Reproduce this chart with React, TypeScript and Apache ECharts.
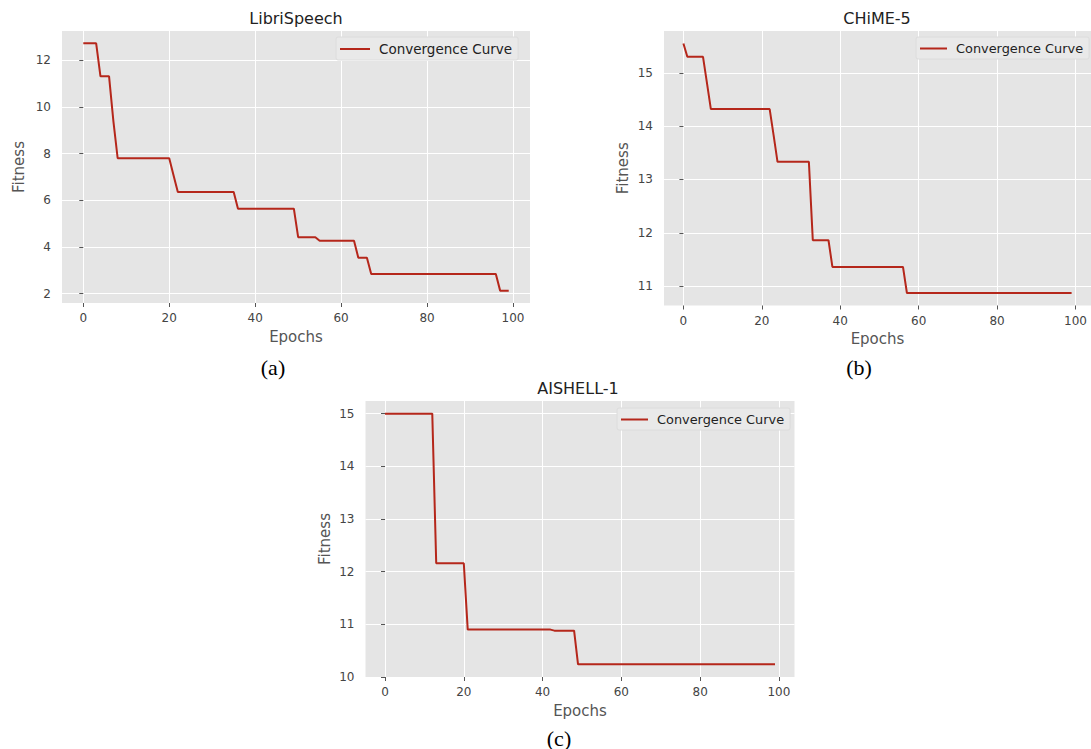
import React, { useEffect, useRef } from "react";
import * as echarts from "echarts";

const SERIES_NAME = "Convergence Curve";
const panelTitles = ["LibriSpeech", "CHiME-5", "AISHELL-1"];
const panelCaptions = ["(a)", "(b)", "(c)"];
const xAxisName = "Epochs";
const yAxisName = "Fitness";

// Fitness per epoch (0..99)
const librispeechFitness = [
  12.72, 12.72, 12.72, 12.72, 11.31, 11.31, 11.31, 9.4, 7.8, 7.8,
  7.8, 7.8, 7.8, 7.8, 7.8, 7.8, 7.8, 7.8, 7.8, 7.8,
  7.8, 7.07, 6.35, 6.35, 6.35, 6.35, 6.35, 6.35, 6.35, 6.35,
  6.35, 6.35, 6.35, 6.35, 6.35, 6.35, 5.64, 5.64, 5.64, 5.64,
  5.64, 5.64, 5.64, 5.64, 5.64, 5.64, 5.64, 5.64, 5.64, 5.64,
  4.42, 4.42, 4.42, 4.42, 4.42, 4.27, 4.27, 4.27, 4.27, 4.27,
  4.27, 4.27, 4.27, 4.27, 3.54, 3.54, 3.54, 2.84, 2.84, 2.84,
  2.84, 2.84, 2.84, 2.84, 2.84, 2.84, 2.84, 2.84, 2.84, 2.84,
  2.84, 2.84, 2.84, 2.84, 2.84, 2.84, 2.84, 2.84, 2.84, 2.84,
  2.84, 2.84, 2.84, 2.84, 2.84, 2.84, 2.84, 2.13, 2.13, 2.13,
];

const chimeFitness = [
  15.55, 15.3, 15.3, 15.3, 15.3, 15.3, 14.81, 14.32, 14.32, 14.32,
  14.32, 14.32, 14.32, 14.32, 14.32, 14.32, 14.32, 14.32, 14.32, 14.32,
  14.32, 14.32, 14.32, 13.83, 13.33, 13.33, 13.33, 13.33, 13.33, 13.33,
  13.33, 13.33, 13.33, 11.86, 11.86, 11.86, 11.86, 11.86, 11.36, 11.36,
  11.36, 11.36, 11.36, 11.36, 11.36, 11.36, 11.36, 11.36, 11.36, 11.36,
  11.36, 11.36, 11.36, 11.36, 11.36, 11.36, 11.36, 10.87, 10.87, 10.87,
  10.87, 10.87, 10.87, 10.87, 10.87, 10.87, 10.87, 10.87, 10.87, 10.87,
  10.87, 10.87, 10.87, 10.87, 10.87, 10.87, 10.87, 10.87, 10.87, 10.87,
  10.87, 10.87, 10.87, 10.87, 10.87, 10.87, 10.87, 10.87, 10.87, 10.87,
  10.87, 10.87, 10.87, 10.87, 10.87, 10.87, 10.87, 10.87, 10.87, 10.87,
];

const aishellFitness = [
  15.0, 15.0, 15.0, 15.0, 15.0, 15.0, 15.0, 15.0, 15.0, 15.0,
  15.0, 15.0, 15.0, 12.16, 12.16, 12.16, 12.16, 12.16, 12.16, 12.16,
  12.16, 10.9, 10.9, 10.9, 10.9, 10.9, 10.9, 10.9, 10.9, 10.9,
  10.9, 10.9, 10.9, 10.9, 10.9, 10.9, 10.9, 10.9, 10.9, 10.9,
  10.9, 10.9, 10.9, 10.88, 10.88, 10.88, 10.88, 10.88, 10.88, 10.24,
  10.24, 10.24, 10.24, 10.24, 10.24, 10.24, 10.24, 10.24, 10.24, 10.24,
  10.24, 10.24, 10.24, 10.24, 10.24, 10.24, 10.24, 10.24, 10.24, 10.24,
  10.24, 10.24, 10.24, 10.24, 10.24, 10.24, 10.24, 10.24, 10.24, 10.24,
  10.24, 10.24, 10.24, 10.24, 10.24, 10.24, 10.24, 10.24, 10.24, 10.24,
  10.24, 10.24, 10.24, 10.24, 10.24, 10.24, 10.24, 10.24, 10.24, 10.24,
];

const xTickValues = [0, 20, 40, 60, 80, 100];
const librispeechTicks = [2, 4, 6, 8, 10, 12];
const chimeTicks = [11, 12, 13, 14, 15];
const aishellTicks = [10, 11, 12, 13, 14, 15];

const FONT = "DejaVu Sans";
const LINE_COLOR = "#b5271b";
const TICK_COLOR = "#555555";

const panels = [
  {
    values: librispeechFitness,
    yTicks: librispeechTicks,
    grid: { left: 62, top: 31, width: 468, height: 272 },
    yRange: [1.6, 13.25],
    yNameGap: 36,
    titlePos: [296, 18],
    captionPos: [273, 367],
    legendPos: [336, 37],
    legendIcon: 30,
    legendFont: 13.5,
  },
  {
    values: chimeFitness,
    yTicks: chimeTicks,
    grid: { left: 664, top: 31, width: 431, height: 274.5 },
    yRange: [10.636, 15.784],
    yNameGap: 34,
    titlePos: [877, 18],
    captionPos: [859, 367],
    legendPos: [916, 37],
    legendIcon: 27,
    legendFont: 12.9,
  },
  {
    values: aishellFitness,
    yTicks: aishellTicks,
    grid: { left: 365.5, top: 401, width: 429, height: 276 },
    yRange: [10.0, 15.24],
    yNameGap: 33,
    titlePos: [578, 388],
    captionPos: [559, 738],
    legendPos: [617, 408],
    legendIcon: 27,
    legendFont: 12.9,
  },
];

export default function App() {
  const ref = useRef<HTMLDivElement>(null);

  useEffect(() => {
    if (!ref.current) return;
    const chart = echarts.init(ref.current, undefined, { renderer: "svg" });

    const option: any = {
      animation: false,
      backgroundColor: "#ffffff",
      textStyle: { fontFamily: FONT },
      grid: panels.map((p) => ({
        ...p.grid,
        show: true,
        backgroundColor: "#e5e5e5",
        borderWidth: 0,
        containLabel: false,
      })),
      xAxis: panels.map((p, i) => ({
        type: "value",
        gridIndex: i,
        min: -4.95,
        max: 103.95,
        name: xAxisName,
        nameLocation: "middle",
        nameGap: 26,
        nameTextStyle: { fontFamily: FONT, fontSize: 15, color: "#555555" },
        axisLine: { show: false },
        axisTick: {
          show: true,
          customValues: xTickValues,
          length: 4,
          lineStyle: { color: TICK_COLOR, width: 1 },
        },
        axisLabel: {
          customValues: xTickValues,
          margin: 9,
          fontFamily: FONT,
          fontSize: 12,
          color: "#444444",
        },
        splitLine: { show: true, lineStyle: { color: "#ffffff", width: 1 } },
      })),
      yAxis: panels.map((p, i) => ({
        type: "value",
        gridIndex: i,
        min: p.yRange[0],
        max: p.yRange[1],
        name: yAxisName,
        nameLocation: "middle",
        nameGap: p.yNameGap,
        nameTextStyle: { fontFamily: FONT, fontSize: 15, color: "#555555" },
        axisLine: { show: false },
        axisTick: {
          show: true,
          customValues: p.yTicks,
          length: 4,
          lineStyle: { color: TICK_COLOR, width: 1 },
        },
        axisLabel: {
          customValues: p.yTicks,
          margin: 11,
          fontFamily: FONT,
          fontSize: 12,
          color: "#444444",
        },
        splitLine: { show: true, lineStyle: { color: "#ffffff", width: 1 } },
      })),
      legend: panels.map((p) => ({
        data: [SERIES_NAME],
        left: p.legendPos[0],
        top: p.legendPos[1],
        orient: "horizontal",
        icon: "rect",
        padding: [5, 6, 4, 4],
        itemWidth: p.legendIcon,
        itemHeight: 2,
        backgroundColor: "#e9e9e9",
        borderColor: "#dcdcdc",
        borderWidth: 1,
        borderRadius: 2,
        selectedMode: false,
        textStyle: {
          fontFamily: FONT,
          fontSize: p.legendFont,
          color: "#222222",
          padding: [0, 0, 0, 4],
        },
      })),
      series: panels.map((p, i) => ({
        name: SERIES_NAME,
        type: "line",
        xAxisIndex: i,
        yAxisIndex: i,
        data: p.values.map((v, epoch) => [epoch, v]),
        symbol: "none",
        showSymbol: false,
        lineStyle: { color: LINE_COLOR, width: 2 },
        itemStyle: { color: LINE_COLOR },
      })),
      graphic: [
        ...panels.map((p, i) => ({
          type: "text",
          x: p.titlePos[0],
          y: p.titlePos[1],
          style: {
            text: panelTitles[i],
            fontFamily: FONT,
            fontSize: 16,
            fill: "#222222",
            align: "center",
            verticalAlign: "middle",
          },
        })),
        ...panels.map((p, i) => ({
          type: "text",
          x: p.captionPos[0],
          y: p.captionPos[1],
          style: {
            text: panelCaptions[i],
            fontFamily: "Liberation Serif",
            fontSize: 22,
            fill: "#000000",
            align: "center",
            verticalAlign: "middle",
          },
        })),
      ],
    };

    chart.setOption(option);
    return () => chart.dispose();
  }, []);

  return (
    <div
      ref={ref}
      style={{ position: "absolute", left: 0, top: 0, width: 1091, height: 749 }}
    />
  );
}
